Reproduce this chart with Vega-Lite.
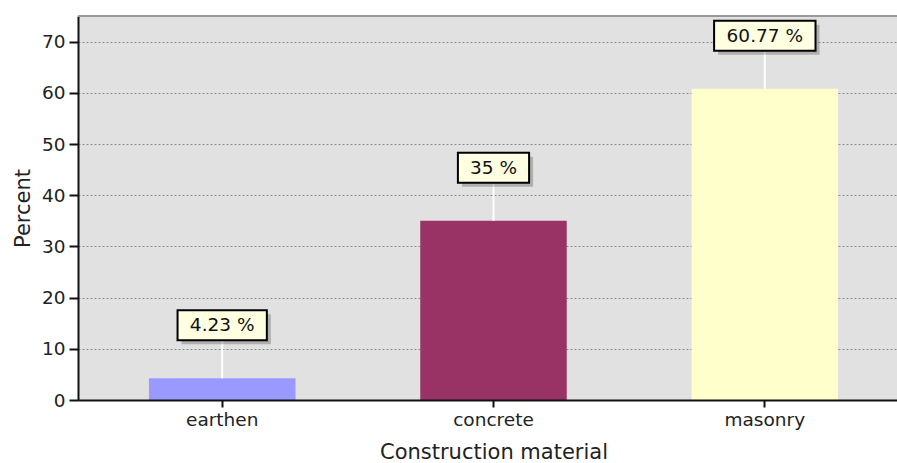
{
  "$schema": "https://vega.github.io/schema/vega-lite/v6.json",
  "width": 819,
  "height": 384,
  "autosize": {"type": "none"},
  "padding": {"left": 78, "top": 16, "right": 0, "bottom": 63},
  "background": "white",
  "config": {
    "view": {"fill": "#e1e1e1", "stroke": null},
    "font": "DejaVu Sans",
    "axis": {
      "labelFont": "DejaVu Sans",
      "titleFont": "DejaVu Sans",
      "labelFontSize": 18.5,
      "titleFontSize": 21,
      "titleFontWeight": "normal",
      "labelColor": "#222",
      "titleColor": "#222",
      "domainColor": "#111",
      "tickColor": "#111",
      "domainWidth": 2,
      "tickWidth": 2
    }
  },
  "data": {
    "values": [
      {"material": "earthen", "value": 4.23},
      {"material": "concrete", "value": 35},
      {"material": "masonry", "value": 60.77}
    ]
  },
  "transform": [
    {"calculate": "format(datum.value, '.4~') + ' %'", "as": "label"}
  ],
  "layer": [
    {
      "mark": {"type": "bar"},
      "encoding": {
        "x": {
          "field": "material",
          "type": "nominal",
          "sort": ["earthen", "concrete", "masonry"],
          "scale": {"range": [0, 831], "paddingInner": 0.46, "paddingOuter": 0.2615},
          "title": "Construction material",
          "axis": {
            "labelAngle": 0,
            "tickSize": 7,
            "labelPadding": 3,
            "titleY": 58,
            "titleBaseline": "alphabetic",
            "zindex": 1
          }
        },
        "y": {
          "field": "value",
          "type": "quantitative",
          "scale": {"domain": [0, 75], "nice": false},
          "title": "Percent",
          "axis": {
            "values": [0, 10, 20, 30, 40, 50, 60, 70],
            "tickSize": 9,
            "labelPadding": 4,
            "grid": true,
            "gridColor": "#8a8a8a",
            "gridDash": [2, 2],
            "gridWidth": 1,
            "titleX": -49,
            "titleBaseline": "alphabetic"
          }
        },
        "color": {
          "field": "material",
          "type": "nominal",
          "scale": {"domain": ["earthen", "concrete", "masonry"], "range": ["#9999ff", "#993366", "#ffffcc"]},
          "legend": null
        }
      }
    },
    {
      "mark": {"type": "rule", "color": "#9a9a9a", "strokeWidth": 2},
      "encoding": {"y": {"datum": 75}}
    },
    {
      "mark": {"type": "rule", "color": "white", "strokeWidth": 2, "y2Offset": -38},
      "encoding": {
        "x": {"field": "material", "type": "nominal", "sort": ["earthen", "concrete", "masonry"]},
        "y": {"field": "value", "type": "quantitative"},
        "y2": {"field": "value"}
      }
    },
    {
      "mark": {
        "type": "bar",
        "fill": "#000000",
        "opacity": 0.22,
        "xOffset": 4,
        "yOffset": -64,
        "y2Offset": -34,
        "width": {"expr": "47 + 12.1*length(replace(datum.label, regexp('[^0-9]','g'), '')) + 6*length(replace(datum.label, regexp('[^.]','g'), ''))"}
      },
      "encoding": {
        "x": {"field": "material", "type": "nominal", "sort": ["earthen", "concrete", "masonry"]},
        "y": {"field": "value", "type": "quantitative"},
        "y2": {"field": "value"}
      }
    },
    {
      "mark": {
        "type": "bar",
        "fill": "#ffffe1",
        "stroke": "#000000",
        "strokeWidth": 2,
        "yOffset": -68,
        "y2Offset": -38,
        "width": {"expr": "47 + 12.1*length(replace(datum.label, regexp('[^0-9]','g'), '')) + 6*length(replace(datum.label, regexp('[^.]','g'), ''))"}
      },
      "encoding": {
        "x": {"field": "material", "type": "nominal", "sort": ["earthen", "concrete", "masonry"]},
        "y": {"field": "value", "type": "quantitative"},
        "y2": {"field": "value"}
      }
    },
    {
      "mark": {"type": "text", "fontSize": 18.5, "font": "DejaVu Sans", "color": "#111", "baseline": "middle", "align": "center", "yOffset": -53},
      "encoding": {
        "x": {"field": "material", "type": "nominal", "sort": ["earthen", "concrete", "masonry"]},
        "y": {"field": "value", "type": "quantitative"},
        "text": {"field": "label"}
      }
    }
  ]
}
